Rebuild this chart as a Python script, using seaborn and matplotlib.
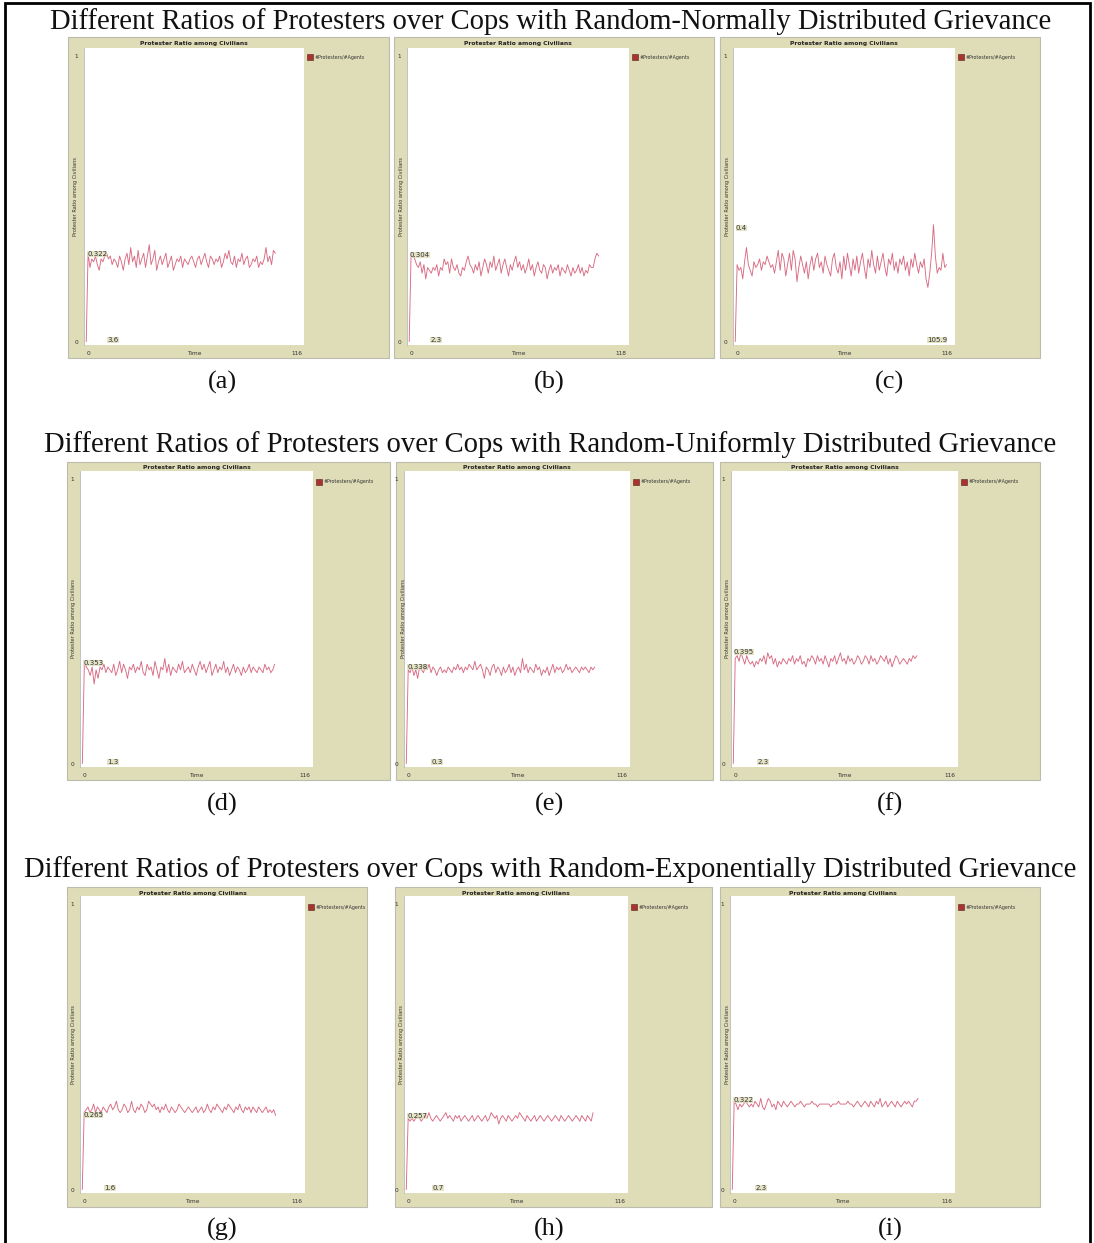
import numpy as np
import pandas as pd
import matplotlib
matplotlib.use("Agg")
import matplotlib.pyplot as plt
from matplotlib.patches import Rectangle
import seaborn as sns

# ---------------- data ----------------
row_titles = [
    "Different Ratios of Protesters over Cops with Random-Normally Distributed Grievance",
    "Different Ratios of Protesters over Cops with Random-Uniformly Distributed Grievance",
    "Different Ratios of Protesters over Cops with Random-Exponentially Distributed Grievance",
]
panel_labels = ["(a)", "(b)", "(c)", "(d)", "(e)", "(f)", "(g)", "(h)", "(i)"]
x_max_labels = ["116", "118", "116", "116", "116", "116", "116", "116", "116"]
x_max_values = [116, 118, 116, 116, 116, 116, 116, 116, 116]
hover_y_labels = ["0.322", "0.304", "0.4", "0.353", "0.338", "0.395", "0.265", "0.257", "0.322"]
hover_x_labels = ["3.6", "2.3", "105.9", "1.3", "0.3", "2.3", "1.6", "0.7", "2.3"]
plot_title = "Protester Ratio among Civilians"
y_axis_label = "Protester Ratio among Civilians"
x_axis_label = "Time"
legend_label = "#Protesters/#Agents"

series_a = [0.00, 0.31, 0.26, 0.29, 0.28, 0.30, 0.27, 0.25, 0.29, 0.28,
            0.30, 0.31, 0.29, 0.30, 0.27, 0.29, 0.28, 0.26, 0.30, 0.28,
            0.25, 0.29, 0.31, 0.27, 0.33, 0.28, 0.30, 0.26, 0.32, 0.27,
            0.29, 0.31, 0.26, 0.30, 0.34, 0.27, 0.29, 0.32, 0.25, 0.28,
            0.30, 0.27, 0.29, 0.31, 0.26, 0.28, 0.30, 0.25, 0.27, 0.29,
            0.28, 0.30, 0.26, 0.29, 0.28, 0.27, 0.29, 0.30, 0.28, 0.26,
            0.29, 0.30, 0.27, 0.29, 0.31, 0.28, 0.26, 0.30, 0.29, 0.27,
            0.29, 0.28, 0.30, 0.26, 0.28, 0.31, 0.29, 0.32, 0.28, 0.27,
            0.30, 0.26, 0.29, 0.28, 0.31, 0.27, 0.29, 0.30, 0.26, 0.27,
            0.29, 0.28, 0.30, 0.26, 0.28, 0.27, 0.29, 0.33, 0.28, 0.30,
            0.27, 0.32, 0.31]
series_b = [0.00, 0.30, 0.30, 0.29, 0.27, 0.26, 0.28, 0.24, 0.27, 0.22,
            0.26, 0.25, 0.24, 0.26, 0.25, 0.27, 0.23, 0.26, 0.25, 0.29,
            0.27, 0.28, 0.24, 0.29, 0.26, 0.25, 0.27, 0.24, 0.23, 0.26,
            0.25, 0.28, 0.30, 0.27, 0.26, 0.24, 0.27, 0.25, 0.28, 0.23,
            0.26, 0.29, 0.27, 0.24, 0.28, 0.26, 0.30, 0.25, 0.27, 0.29,
            0.24, 0.27, 0.29, 0.26, 0.23, 0.27, 0.25, 0.28, 0.30, 0.26,
            0.28, 0.25, 0.27, 0.24, 0.26, 0.29, 0.25, 0.27, 0.23, 0.26,
            0.28, 0.25, 0.24, 0.27, 0.26, 0.22, 0.25, 0.27, 0.24, 0.26,
            0.25, 0.27, 0.23, 0.26, 0.25, 0.24, 0.27, 0.25, 0.23, 0.26,
            0.24, 0.25, 0.27, 0.24, 0.26, 0.23, 0.25, 0.24, 0.27, 0.26,
            0.26, 0.29, 0.31, 0.30]
series_c = [0.00, 0.27, 0.25, 0.26, 0.22, 0.28, 0.33, 0.27, 0.25, 0.23,
            0.28, 0.26, 0.27, 0.29, 0.25, 0.28, 0.27, 0.30, 0.28, 0.26,
            0.27, 0.24, 0.28, 0.32, 0.25, 0.31, 0.29, 0.23, 0.27, 0.31,
            0.25, 0.32, 0.29, 0.21, 0.26, 0.30, 0.27, 0.24, 0.28, 0.22,
            0.27, 0.30, 0.25, 0.29, 0.31, 0.26, 0.28, 0.24, 0.30, 0.27,
            0.25, 0.23, 0.29, 0.31, 0.26, 0.24, 0.28, 0.22, 0.30, 0.25,
            0.31, 0.27, 0.23, 0.29, 0.25, 0.30, 0.24, 0.28, 0.31, 0.26,
            0.22, 0.29, 0.26, 0.32, 0.27, 0.24, 0.30, 0.25, 0.28, 0.31,
            0.26, 0.23, 0.29, 0.27, 0.31, 0.25, 0.28, 0.24, 0.29, 0.27,
            0.30, 0.25, 0.28, 0.23, 0.29, 0.26, 0.31, 0.27, 0.24, 0.28,
            0.26, 0.29, 0.22, 0.19, 0.24, 0.31, 0.41, 0.30, 0.24, 0.26,
            0.25, 0.31, 0.26, 0.27]
series_d = [0.00, 0.35, 0.34, 0.33, 0.31, 0.34, 0.28, 0.33, 0.30, 0.34,
            0.33, 0.35, 0.32, 0.34, 0.33, 0.32, 0.35, 0.31, 0.33, 0.36,
            0.32, 0.35, 0.33, 0.30, 0.34, 0.33, 0.35, 0.32, 0.34, 0.33,
            0.36, 0.32, 0.31, 0.35, 0.33, 0.34, 0.31, 0.36, 0.33, 0.30,
            0.34, 0.33, 0.37, 0.32, 0.35, 0.31, 0.34, 0.33, 0.32, 0.35,
            0.33, 0.36, 0.32, 0.33, 0.34, 0.32, 0.35, 0.33, 0.31, 0.34,
            0.36, 0.33, 0.35, 0.32, 0.34, 0.36, 0.31, 0.33, 0.35, 0.32,
            0.34, 0.33, 0.36, 0.32, 0.34, 0.31, 0.33, 0.35, 0.32, 0.34,
            0.33, 0.31, 0.34, 0.32, 0.33, 0.35, 0.32, 0.34, 0.33, 0.32,
            0.34, 0.33, 0.32, 0.35, 0.33, 0.34, 0.32, 0.33, 0.35]
series_e = [0.00, 0.33, 0.32, 0.34, 0.31, 0.33, 0.30, 0.34, 0.33, 0.32,
            0.34, 0.33, 0.35, 0.32, 0.34, 0.33, 0.31, 0.33, 0.34, 0.32,
            0.33, 0.32, 0.34, 0.33, 0.32, 0.34, 0.33, 0.35, 0.33, 0.34,
            0.32, 0.34, 0.33, 0.35, 0.34, 0.33, 0.36, 0.33, 0.34, 0.35,
            0.33, 0.30, 0.34, 0.33, 0.31, 0.34, 0.35, 0.32, 0.34, 0.33,
            0.31, 0.34, 0.32, 0.33, 0.35, 0.32, 0.34, 0.31, 0.33, 0.34,
            0.32, 0.37, 0.33, 0.35, 0.32, 0.34, 0.33, 0.32, 0.35, 0.33,
            0.34, 0.31, 0.33, 0.32, 0.34, 0.31, 0.33, 0.35, 0.32, 0.34,
            0.33, 0.34, 0.32, 0.33, 0.35, 0.33, 0.34, 0.32, 0.33, 0.34,
            0.33, 0.32, 0.34, 0.33, 0.34, 0.33, 0.32, 0.34, 0.33, 0.34]
series_f = [0.00, 0.37, 0.38, 0.36, 0.39, 0.37, 0.35, 0.38, 0.36, 0.35,
            0.36, 0.34, 0.36, 0.35, 0.37, 0.36, 0.38, 0.35, 0.39, 0.37,
            0.38, 0.35, 0.37, 0.34, 0.36, 0.35, 0.37, 0.36, 0.35, 0.37,
            0.36, 0.38, 0.35, 0.37, 0.36, 0.38, 0.35, 0.36, 0.34, 0.37,
            0.36, 0.38, 0.37, 0.35, 0.38, 0.36, 0.37, 0.35, 0.38, 0.36,
            0.34, 0.37, 0.36, 0.38, 0.35, 0.37, 0.39, 0.36, 0.37, 0.35,
            0.38, 0.36, 0.37, 0.35, 0.36, 0.38, 0.37, 0.35, 0.36, 0.38,
            0.37, 0.35, 0.38, 0.36, 0.37, 0.35, 0.36, 0.38, 0.37, 0.36,
            0.38, 0.35, 0.37, 0.34, 0.36, 0.38, 0.37, 0.35, 0.36, 0.37,
            0.36, 0.35, 0.37, 0.36, 0.38, 0.37, 0.38]
series_g = [0.00, 0.27, 0.28, 0.29, 0.27, 0.28, 0.30, 0.27, 0.29, 0.28,
            0.27, 0.29, 0.28, 0.27, 0.29, 0.30, 0.28, 0.29, 0.31, 0.28,
            0.27, 0.28, 0.30, 0.29, 0.27, 0.28, 0.31, 0.28, 0.27, 0.29,
            0.28, 0.30, 0.29, 0.27, 0.28, 0.31, 0.30, 0.29, 0.30, 0.28,
            0.29, 0.27, 0.29, 0.28, 0.30, 0.28, 0.27, 0.29, 0.28, 0.27,
            0.28, 0.30, 0.29, 0.28, 0.27, 0.28, 0.29, 0.28, 0.27, 0.28,
            0.29, 0.27, 0.28, 0.29, 0.27, 0.28, 0.30, 0.28, 0.27, 0.29,
            0.28, 0.30, 0.29, 0.28, 0.27, 0.29, 0.28, 0.30, 0.29, 0.28,
            0.27, 0.29, 0.28, 0.30, 0.28, 0.27, 0.29, 0.28, 0.29, 0.27,
            0.29, 0.28, 0.27, 0.29, 0.28, 0.27, 0.28, 0.29, 0.27, 0.28,
            0.27, 0.28, 0.26]
series_h = [0.00, 0.25, 0.24, 0.25, 0.24, 0.25, 0.26, 0.25, 0.24, 0.25,
            0.26, 0.25, 0.27, 0.25, 0.24, 0.25, 0.26, 0.25, 0.24, 0.25,
            0.26, 0.27, 0.25, 0.26, 0.25, 0.24, 0.26, 0.25, 0.26, 0.24,
            0.25, 0.26, 0.25, 0.24, 0.25, 0.26, 0.24, 0.25, 0.26, 0.25,
            0.24, 0.25, 0.26, 0.24, 0.25, 0.27, 0.26, 0.25, 0.26, 0.23,
            0.25, 0.26, 0.25, 0.24, 0.26, 0.25, 0.24, 0.25, 0.26, 0.25,
            0.27, 0.26, 0.25, 0.24, 0.26, 0.25, 0.24, 0.25, 0.26, 0.24,
            0.25, 0.26, 0.25, 0.24, 0.25, 0.26, 0.25, 0.24, 0.25, 0.26,
            0.25, 0.24, 0.26, 0.25, 0.24, 0.25, 0.26, 0.25, 0.24, 0.25,
            0.26, 0.25, 0.24, 0.26, 0.25, 0.24, 0.26, 0.25, 0.24, 0.27]
series_i = [0.00, 0.31, 0.30, 0.28, 0.30, 0.29, 0.30, 0.31, 0.30, 0.29,
            0.30, 0.29, 0.31, 0.30, 0.29, 0.32, 0.29, 0.28, 0.30, 0.32,
            0.31, 0.29, 0.30, 0.28, 0.31, 0.30, 0.29, 0.31, 0.30, 0.29,
            0.30, 0.31, 0.30, 0.29, 0.30, 0.30, 0.31, 0.30, 0.29, 0.30,
            0.30, 0.30, 0.31, 0.30, 0.30, 0.29, 0.30, 0.30, 0.30, 0.30,
            0.30, 0.30, 0.29, 0.30, 0.30, 0.30, 0.31, 0.30, 0.30, 0.30,
            0.30, 0.31, 0.30, 0.30, 0.29, 0.30, 0.31, 0.30, 0.29, 0.30,
            0.31, 0.30, 0.29, 0.31, 0.30, 0.29, 0.31, 0.30, 0.32, 0.29,
            0.30, 0.31, 0.29, 0.30, 0.31, 0.30, 0.29, 0.31, 0.30, 0.29,
            0.30, 0.31, 0.30, 0.31, 0.30, 0.29, 0.31, 0.31, 0.32]
all_series = [series_a, series_b, series_c, series_d, series_e,
              series_f, series_g, series_h, series_i]

# ---------------- layout (pixels) ----------------
W, H = 1094, 1243
KHAKI = "#dfdcb8"
LINE = "#d86a82"

outer_boxes = [
    (68, 37, 389, 358), (394, 37, 714, 358), (720, 37, 1040, 358),
    (67, 462, 390, 780), (396, 462, 713, 780), (720, 462, 1040, 780),
    (67, 887, 367, 1207), (395, 887, 712, 1207), (720, 887, 1040, 1207),
]
white_boxes = [
    (84, 48, 304, 345), (407, 48, 629, 345), (733, 48, 955, 345),
    (80, 471, 313, 767), (404, 471, 630, 767), (731, 471, 958, 767),
    (80, 896, 305, 1193), (404, 896, 628, 1193), (730, 896, 955, 1193),
]
title_y = [22, 445, 870]
label_y = [382, 804, 1229]
label_x = [222, 549, 890]
hover_y_pos = [254, 255, 228, 663, 667, 652, 1115, 1116, 1100]
hover_x_pos = [113, 436, 937, 113, 437, 763, 110, 438, 761]

sns.set_theme(style="white")
plt.rcParams["font.family"] = ["DejaVu Sans"]

fig = plt.figure(figsize=(W / 100, H / 100), dpi=100)
fig.patch.set_facecolor("white")


def fx(x):
    return x / W


def fy(y):
    return 1 - y / H


fig.add_artist(Rectangle((fx(5), fy(1250)), fx(1090) - fx(5), fy(3) - fy(1250),
                         transform=fig.transFigure, fill=False,
                         edgecolor="black", linewidth=2.0, zorder=0))

for r, t in enumerate(row_titles):
    fig.text(0.5 + 0.003, fy(title_y[r]), t, ha="center", va="center",
             fontsize=20.6, family="Liberation Serif", color="#111111")
    for c in range(3):
        fig.text(fx(label_x[c]), fy(label_y[r]), panel_labels[r * 3 + c],
                 ha="center", va="center", fontsize=19,
                 family="Liberation Serif", color="#111111")

for k in range(9):
    ox0, oy0, ox1, oy1 = outer_boxes[k]
    wx0, wy0, wx1, wy1 = white_boxes[k]
    fig.add_artist(Rectangle((fx(ox0), fy(oy1)), fx(ox1) - fx(ox0), fy(oy0) - fy(oy1),
                             transform=fig.transFigure, facecolor=KHAKI,
                             edgecolor="#bcbcae", linewidth=0.8, zorder=1))
    ax = fig.add_axes([fx(wx0), fy(wy1), fx(wx1) - fx(wx0), fy(wy0) - fy(wy1)])
    ax.set_zorder(2)
    ax.set_facecolor("white")
    vals = all_series[k]
    df = pd.DataFrame({"Time": np.arange(len(vals)), "ratio": vals})
    sns.lineplot(data=df, x="Time", y="ratio", ax=ax, color=LINE,
                 linewidth=0.65, legend=False)
    xmax = x_max_values[k]
    ax.set_xlim(-1.2, xmax + 1.5)
    ax.set_ylim(-0.012, 1.03)
    ax.set_xticks([])
    ax.set_yticks([])
    ax.set_xlabel("")
    ax.set_ylabel("")
    for s in ["top", "right", "bottom"]:
        ax.spines[s].set_visible(False)
    ax.spines["left"].set_color("#b8b8b8")
    ax.spines["left"].set_linewidth(0.6)

    small = dict(fontsize=4.2, color="#333333")
    ax.annotate("1", xy=(0, 0.97), xycoords="axes fraction", xytext=(-4, 0),
                textcoords="offset points", ha="right", va="center", **small)
    ax.annotate("0", xy=(0, 0.01), xycoords="axes fraction", xytext=(-4, 0),
                textcoords="offset points", ha="right", va="center", **small)
    ax.annotate("0", xy=(0.01, 0), xycoords="axes fraction", xytext=(0, -4),
                textcoords="offset points", ha="left", va="top", **small)
    ax.annotate(x_axis_label, xy=(0.5, 0), xycoords="axes fraction", xytext=(0, -4),
                textcoords="offset points", ha="center", va="top", **small)
    ax.annotate(x_max_labels[k], xy=(0.99, 0), xycoords="axes fraction", xytext=(0, -4),
                textcoords="offset points", ha="right", va="top", **small)
    fig.text(fx(ox0 + 7), fy((wy0 + wy1) / 2), y_axis_label, rotation=90,
             ha="center", va="center", fontsize=3.6, color="#333333", zorder=3)
    fig.text(fx((wx0 + wx1) / 2), fy(oy0 + 6), plot_title, ha="center", va="center",
             fontsize=4.3, fontweight="bold", color="#222222", zorder=3)
    fig.add_artist(Rectangle((fx(wx1 + 3), fy(oy0 + 23)), 6 / W, 6 / H,
                             transform=fig.transFigure, facecolor="#a8332f",
                             edgecolor="#552222", linewidth=0.4, zorder=3))
    fig.text(fx(wx1 + 11), fy(oy0 + 20), legend_label, ha="left", va="center",
             fontsize=3.4, color="#333333", zorder=3)
    fig.text(fx(wx0 + 3), fy(hover_y_pos[k]), hover_y_labels[k], ha="left",
             va="center", fontsize=5, color="#333333", zorder=3,
             bbox=dict(boxstyle="square,pad=0.05", facecolor=KHAKI,
                       edgecolor="none", alpha=0.8))
    fig.text(fx(hover_x_pos[k]), fy(wy1 - 5), hover_x_labels[k], ha="center",
             va="center", fontsize=5, color="#333333", zorder=3,
             bbox=dict(boxstyle="square,pad=0.05", facecolor=KHAKI,
                       edgecolor="none", alpha=0.8))

fig.savefig("out.png", dpi=100, facecolor="white")
